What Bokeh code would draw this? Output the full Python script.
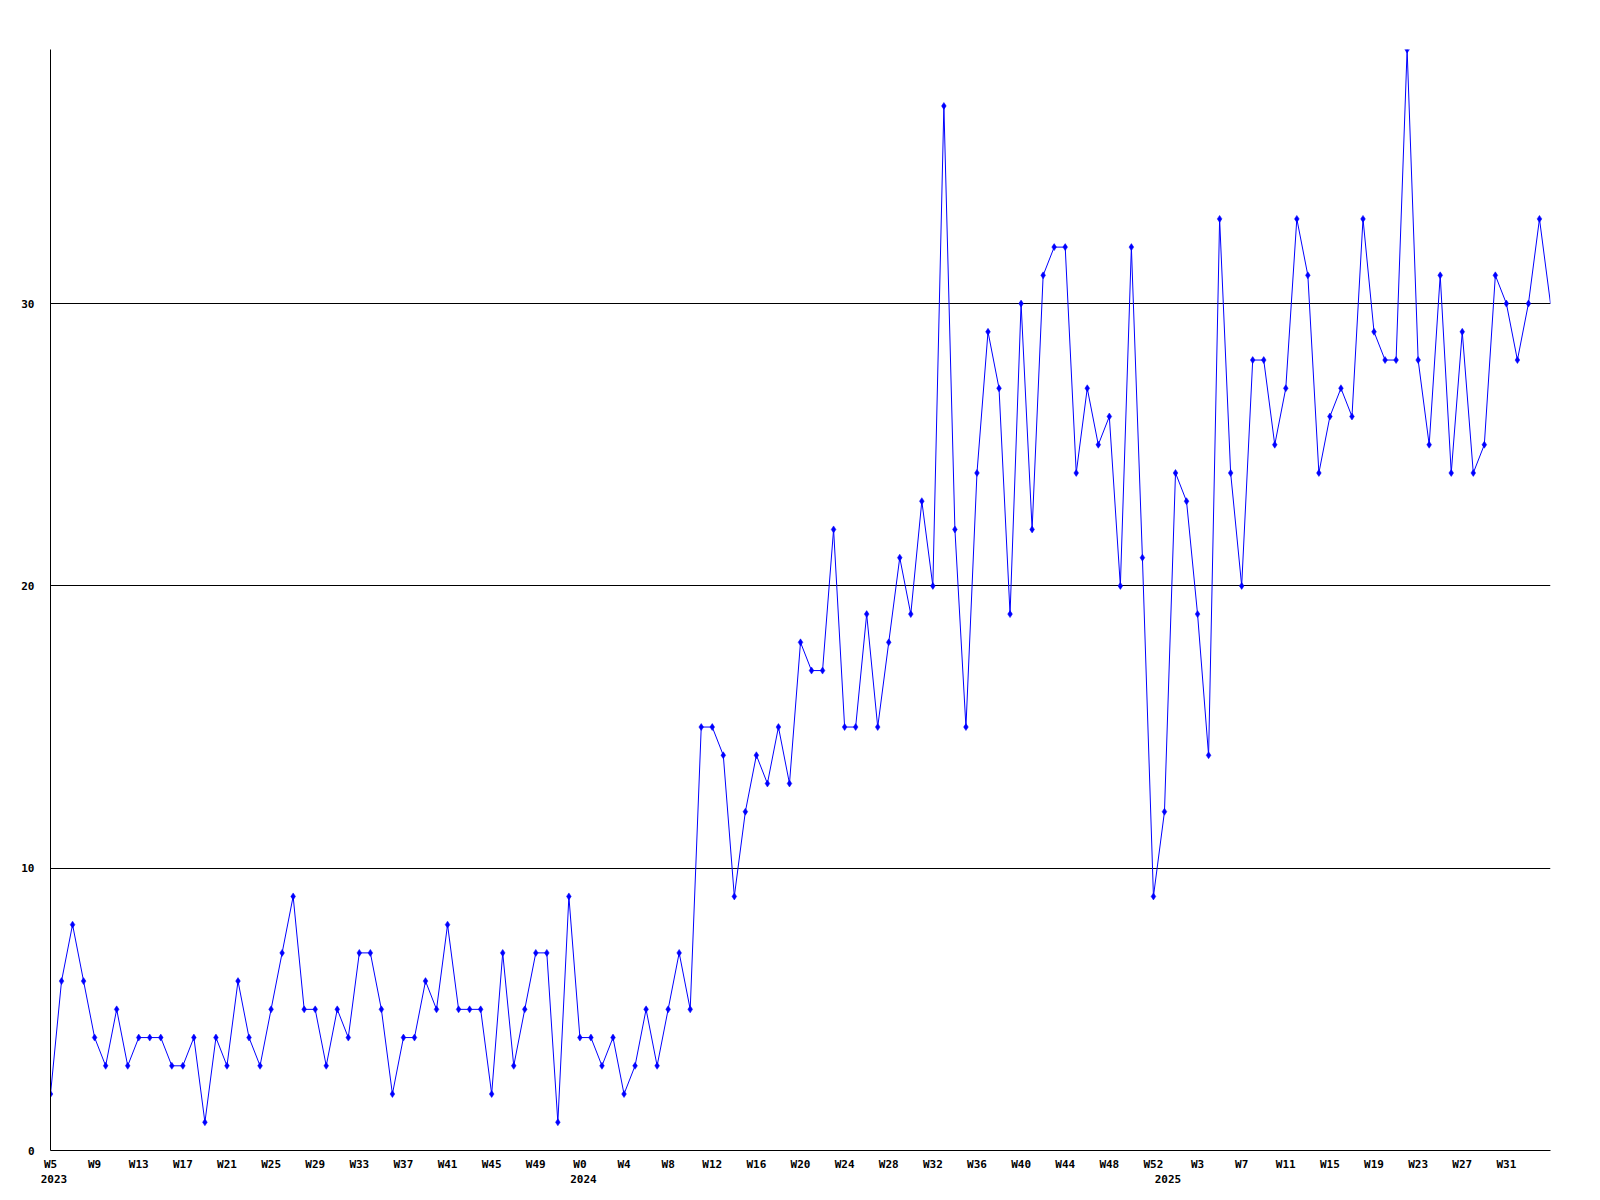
from bokeh.plotting import figure
from bokeh.models import Range1d, FixedTicker, LinearAxis, ColumnDataSource, CDSView, IndexFilter
from bokeh.embed import file_html
from bokeh.resources import INLINE

# weekly counts, 2023 W5 .. 2025 W35
values = [
    2, 6, 8, 6, 4, 3, 5, 3, 4, 4,
    4, 3, 3, 4, 1, 4, 3, 6, 4, 3,
    5, 7, 9, 5, 5, 3, 5, 4, 7, 7,
    5, 2, 4, 4, 6, 5, 8, 5, 5, 5,
    2, 7, 3, 5, 7, 7, 1, 9, 4, 4,
    3, 4, 2, 3, 5, 3, 5, 7, 5,
    15, 15, 14, 9, 12, 14, 13, 15, 13,
    18, 17, 17, 22, 15, 15, 19, 15, 18, 21,
    19, 23, 20, 37, 22, 15, 24, 29, 27, 19,
    30, 22, 31, 32, 32, 24, 27, 25, 26, 20,
    32, 21, 9, 12, 24, 23, 19, 14, 33, 24,
    20, 28, 28, 25, 27, 33, 31, 24, 26, 27,
    26, 33, 29, 28, 28, 39, 28, 25, 31, 24,
    29, 24, 25, 31, 30, 28, 30, 33, 30,
]

week_labels = [
    "W5", "W9", "W13", "W17", "W21", "W25", "W29", "W33", "W37", "W41", "W45", "W49",
    "W0", "W4", "W8", "W12", "W16", "W20", "W24", "W28", "W32", "W36", "W40", "W44", "W48", "W52",
    "W3", "W7", "W11", "W15", "W19", "W23", "W27", "W31",
]
year_labels = ["2023", "2024", "2025"]
year_week_index = [0, 48, 101]
y_ticks = [0, 10, 20, 30]
y_max = 39

n = len(values)
weeks = list(range(n))
FRAME_W, FRAME_H = 1500, 1101
px = (n - 1) / FRAME_W  # data units per pixel

src = ColumnDataSource(dict(x=weeks, y=values))

p = figure(frame_width=FRAME_W, frame_height=FRAME_H,
           x_range=Range1d(0, n - 1), y_range=Range1d(0, y_max),
           output_backend="svg", toolbar_location=None,
           min_border_left=50, min_border_right=42, min_border_top=49, min_border_bottom=0)
p.outline_line_color = None
p.background_fill_color = "white"
p.border_fill_color = "white"

p.line("x", "y", source=src, line_color="#0000FF", line_width=1)
p.scatter("x", "y", source=src, view=CDSView(filter=IndexFilter(list(range(n - 1)))),
          marker="diamond", size=7, fill_color="#0000FF", line_color="#0000FF", line_width=0.5)

FONT = "DejaVu Sans Mono"

def style(ax):
    ax.major_tick_line_color = None
    ax.minor_tick_line_color = None
    ax.major_tick_out = 0
    ax.major_tick_in = 0
    ax.major_label_text_font = FONT
    ax.major_label_text_font_style = "bold"
    ax.major_label_text_font_size = "11px"
    ax.major_label_text_color = "black"
    ax.axis_line_color = "black"
    ax.axis_line_width = 1

# y axis
yax = p.yaxis[0]
style(yax)
yax.ticker = FixedTicker(ticks=y_ticks)
yax.major_label_standoff = 16

p.xgrid.grid_line_color = None
p.ygrid.ticker = FixedTicker(ticks=y_ticks)
p.ygrid.grid_line_color = "black"
p.ygrid.grid_line_width = 1
p.ygrid.grid_line_alpha = 1

# week axis
xax = p.xaxis[0]
style(xax)
wk_ticks = [4 * i for i in range(len(week_labels))]
xax.ticker = FixedTicker(ticks=wk_ticks)
xax.major_label_overrides = {t: lab for t, lab in zip(wk_ticks, week_labels)}
xax.major_label_standoff = 7

# year axis
yr_ticks = [w + 3.5 * px for w in year_week_index]
yr = LinearAxis(ticker=FixedTicker(ticks=yr_ticks),
                major_label_overrides={t: lab for t, lab in zip(yr_ticks, year_labels)})
style(yr)
yr.axis_line_color = None
yr.major_label_standoff = 1
p.add_layout(yr, "below")

open("out.html", "w").write(file_html(p, INLINE))
